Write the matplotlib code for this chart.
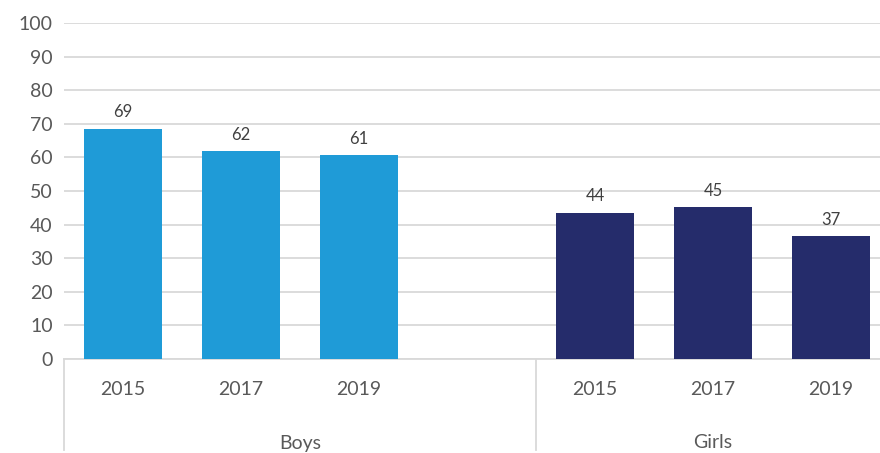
import matplotlib
matplotlib.use('Agg')
import matplotlib.pyplot as plt
import matplotlib.transforms as mtransforms

# Data
groups = ["Boys", "Girls"]
years = ["2015", "2017", "2019"]
boys = [68.6, 61.8, 60.6]
girls = [43.6, 45.1, 36.6]
colors = ["#1F9BD7", "#252C6B"]

plt.rcParams['font.family'] = ['Lato', 'DejaVu Sans']

fig = plt.figure(figsize=(8.8, 4.53), dpi=100)
ax = fig.add_axes([64 / 880, 94 / 453, 816 / 880, 336 / 453])

# boys take slots 0-2, slot 3 is empty, girls take 4-6
xb = [0, 1, 2]
xg = [4, 5, 6]
ax.bar(xb, boys, width=0.66, color=colors[0], zorder=3)
ax.bar(xg, girls, width=0.66, color=colors[1], zorder=3)

for x, v in list(zip(xb, boys)) + list(zip(xg, girls)):
    ax.text(x, v + 2.5, '{:.0f}'.format(v), ha='center', va='bottom',
            fontsize=12, color='#404040')

ax.set_ylim(0, 100)
ax.set_yticks(range(0, 101, 10))
ax.set_xlim(-0.5, -0.5 + 816 / 118)
ax.set_xticks(xb + xg)
ax.set_xticklabels(years + years)
ax.tick_params(axis='x', length=0, pad=16, labelsize=14, labelcolor='#595959')
ax.tick_params(axis='y', length=0, pad=8, labelsize=14, labelcolor='#595959')

ax.grid(axis='y', color='#D9D9D9', linewidth=1.3, zorder=0)
for s in ['top', 'right', 'left']:
    ax.spines[s].set_visible(False)
ax.spines['bottom'].set_color('#D9D9D9')
ax.spines['bottom'].set_linewidth(1.3)

# group separators and labels under the axis
trans = mtransforms.blended_transform_factory(ax.transData, ax.transAxes)
for xs in [-0.5, 3.5, 6.5]:
    ax.plot([xs, xs], [0, -0.27], transform=trans, color='#D9D9D9',
            linewidth=1.3, clip_on=False)
ax.text(1.5, -0.25, groups[0], transform=trans, ha='center', va='center',
        fontsize=14, color='#595959')
ax.text(5.0, -0.25, groups[1], transform=trans, ha='center', va='center',
        fontsize=14, color='#595959')

fig.savefig('out.png', dpi=100)
